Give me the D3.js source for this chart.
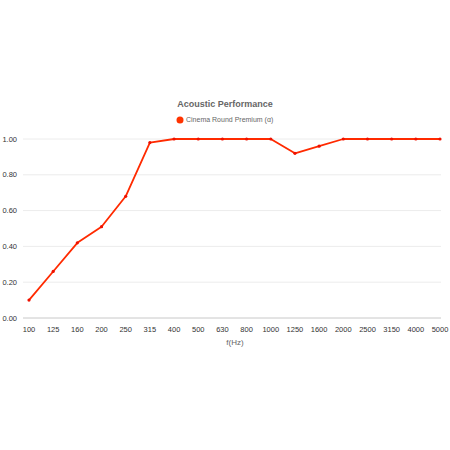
<!DOCTYPE html>
<html>
<head>
<meta charset="utf-8">
<script src="https://cdn.jsdelivr.net/npm/d3@7"></script>
<style>
  body { margin: 0; background: #fff; }
  text { font-family: Arial, "Liberation Sans", sans-serif; }
</style>
</head>
<body>
<div id="chart"></div>
<script>
const freqs = ["100", "125", "160", "200", "250", "315", "400", "500", "630", "800",
               "1000", "1250", "1600", "2000", "2500", "3150", "4000", "5000"];
const alpha = [0.10, 0.26, 0.42, 0.51, 0.68, 0.98, 1.00, 1.00, 1.00, 1.00,
               1.00, 0.92, 0.96, 1.00, 1.00, 1.00, 1.00, 1.00];
const yTicks = [0, 0.2, 0.4, 0.6, 0.8, 1.0];
const seriesName = "Cinema Round Premium (α)";

const width = 450, height = 450;
const plotLeft = 23, plotRight = 441, plotTop = 139, plotBottom = 318;

const svg = d3.select("#chart").append("svg")
    .attr("width", width)
    .attr("height", height);

const x = d3.scalePoint()
    .domain(freqs)
    .range([29, 440]);

const y = d3.scaleLinear()
    .domain([0, 1])
    .range([plotBottom, plotTop]);

// grid lines
svg.append("g")
    .selectAll("line")
    .data(yTicks)
    .enter()
    .append("line")
    .attr("x1", plotLeft)
    .attr("x2", plotRight)
    .attr("y1", d => y(d))
    .attr("y2", d => y(d))
    .attr("stroke", d => d === 0 ? "#c8c8c8" : "#ececec")
    .attr("stroke-width", 1);

// y labels
svg.append("g")
    .selectAll("text")
    .data(yTicks)
    .enter()
    .append("text")
    .attr("x", 17)
    .attr("y", d => y(d))
    .attr("dy", "0.35em")
    .attr("text-anchor", "end")
    .attr("font-size", "7.5px")
    .attr("fill", "#333")
    .text(d => d.toFixed(2));

// x labels
svg.append("g")
    .selectAll("text")
    .data(freqs)
    .enter()
    .append("text")
    .attr("x", d => x(d))
    .attr("y", 332)
    .attr("text-anchor", "middle")
    .attr("font-size", "7.5px")
    .attr("fill", "#333")
    .text(d => d);

svg.append("text")
    .attr("x", 235)
    .attr("y", 345)
    .attr("text-anchor", "middle")
    .attr("font-size", "8px")
    .attr("fill", "#666")
    .text("f(Hz)");

// title
svg.append("text")
    .attr("x", 225)
    .attr("y", 107)
    .attr("text-anchor", "middle")
    .attr("font-size", "9px")
    .attr("font-weight", "700")
    .attr("fill", "#666")
    .text("Acoustic Performance");

// legend
svg.append("circle")
    .attr("cx", 180)
    .attr("cy", 120)
    .attr("r", 3.5)
    .attr("fill", "#ff3300");

svg.append("text")
    .attr("x", 186)
    .attr("y", 120)
    .attr("dy", "0.35em")
    .attr("font-size", "7px")
    .attr("fill", "#666")
    .text(seriesName);

const data = freqs.map((f, i) => ({ f: f, v: alpha[i] }));

const line = d3.line()
    .x(d => x(d.f))
    .y(d => y(d.v));

svg.append("path")
    .datum(data)
    .attr("d", line)
    .attr("fill", "none")
    .attr("stroke", "#ff2a00")
    .attr("stroke-width", 1.8)
    .attr("stroke-linejoin", "round");

svg.append("g")
    .selectAll("circle")
    .data(data)
    .enter()
    .append("circle")
    .attr("cx", d => x(d.f))
    .attr("cy", d => y(d.v))
    .attr("r", 1.6)
    .attr("fill", "#ee1100");
</script>
</body>
</html>
